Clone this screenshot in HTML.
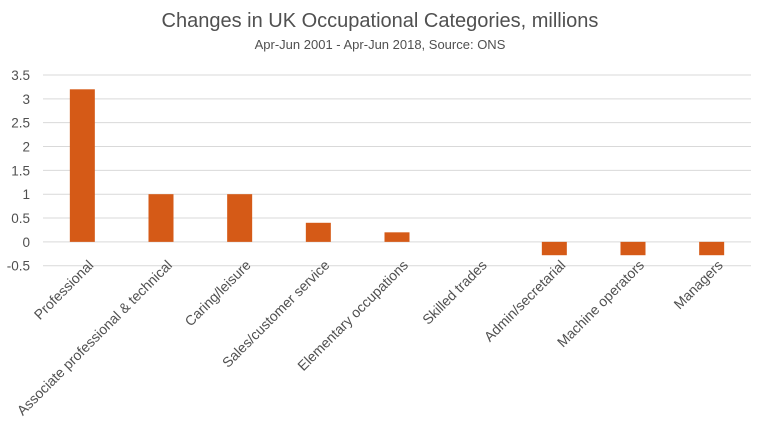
<!DOCTYPE html>
<html><head><meta charset="utf-8"><style>
body{margin:0;background:#fff;font-family:"Liberation Sans",sans-serif;}
svg text{font-family:"Liberation Sans",sans-serif;fill:#505050;}
</style></head><body>
<svg width="760" height="425" xmlns="http://www.w3.org/2000/svg">
<text x="380" y="27" text-anchor="middle" font-size="20">Changes in UK Occupational Categories, millions</text>
<text x="380" y="49" text-anchor="middle" font-size="13">Apr-Jun 2001 - Apr-Jun 2018, Source: ONS</text>
<g id="grid"></g><g id="bars"></g><g id="labels"></g>
</svg>
<script>
const categories=["Professional","Associate professional & technical","Caring/leisure","Sales/customer service","Elementary occupations","Skilled trades","Admin/secretarial","Machine operators","Managers"];
const values=[3.2,1.0,1.0,0.4,0.2,0,-0.28,-0.28,-0.28];
const ticks=[-0.5,0,0.5,1,1.5,2,2.5,3,3.5];
const NS="http://www.w3.org/2000/svg";
const x0=43,x1=751,yMin=-0.5,yMax=3.5,pyTop=75,pyBot=265.7;
const y=v=>pyBot-(v-yMin)/(yMax-yMin)*(pyBot-pyTop);
const band=(x1-x0)/categories.length;
const xc=i=>x0+band*(i+0.5);
function mk(t,a,p){const e=document.createElementNS(NS,t);for(const k in a)e.setAttribute(k,a[k]);p.appendChild(e);return e;}
const g=document.getElementById('grid'),b=document.getElementById('bars'),l=document.getElementById('labels');
ticks.forEach(t=>{
 const ln=mk('line',{x1:x0,x2:x1,y1:y(t),y2:y(t),stroke:'#d9d9d9','stroke-width':1},g);
 
 
 const tx=mk('text',{x:30,y:y(t)+5,'text-anchor':'end','font-size':13.5},g);
 
 
 tx.textContent=t;
});
categories.forEach((c,i)=>{
 const v=values[i],w=25;
 const r=mk('rect',{x:xc(i)-w/2,y:Math.min(y(v),y(0)),width:w,height:Math.abs(y(v)-y(0)),fill:'#D55A17'},b);
 
 
 const tx=mk('text',{x:0,y:0,'text-anchor':'end','font-size':14,transform:`translate(${xc(i)+12},${266}) rotate(-45)`},l);
 
 
 tx.textContent=c;
});
</script>
</body></html>
